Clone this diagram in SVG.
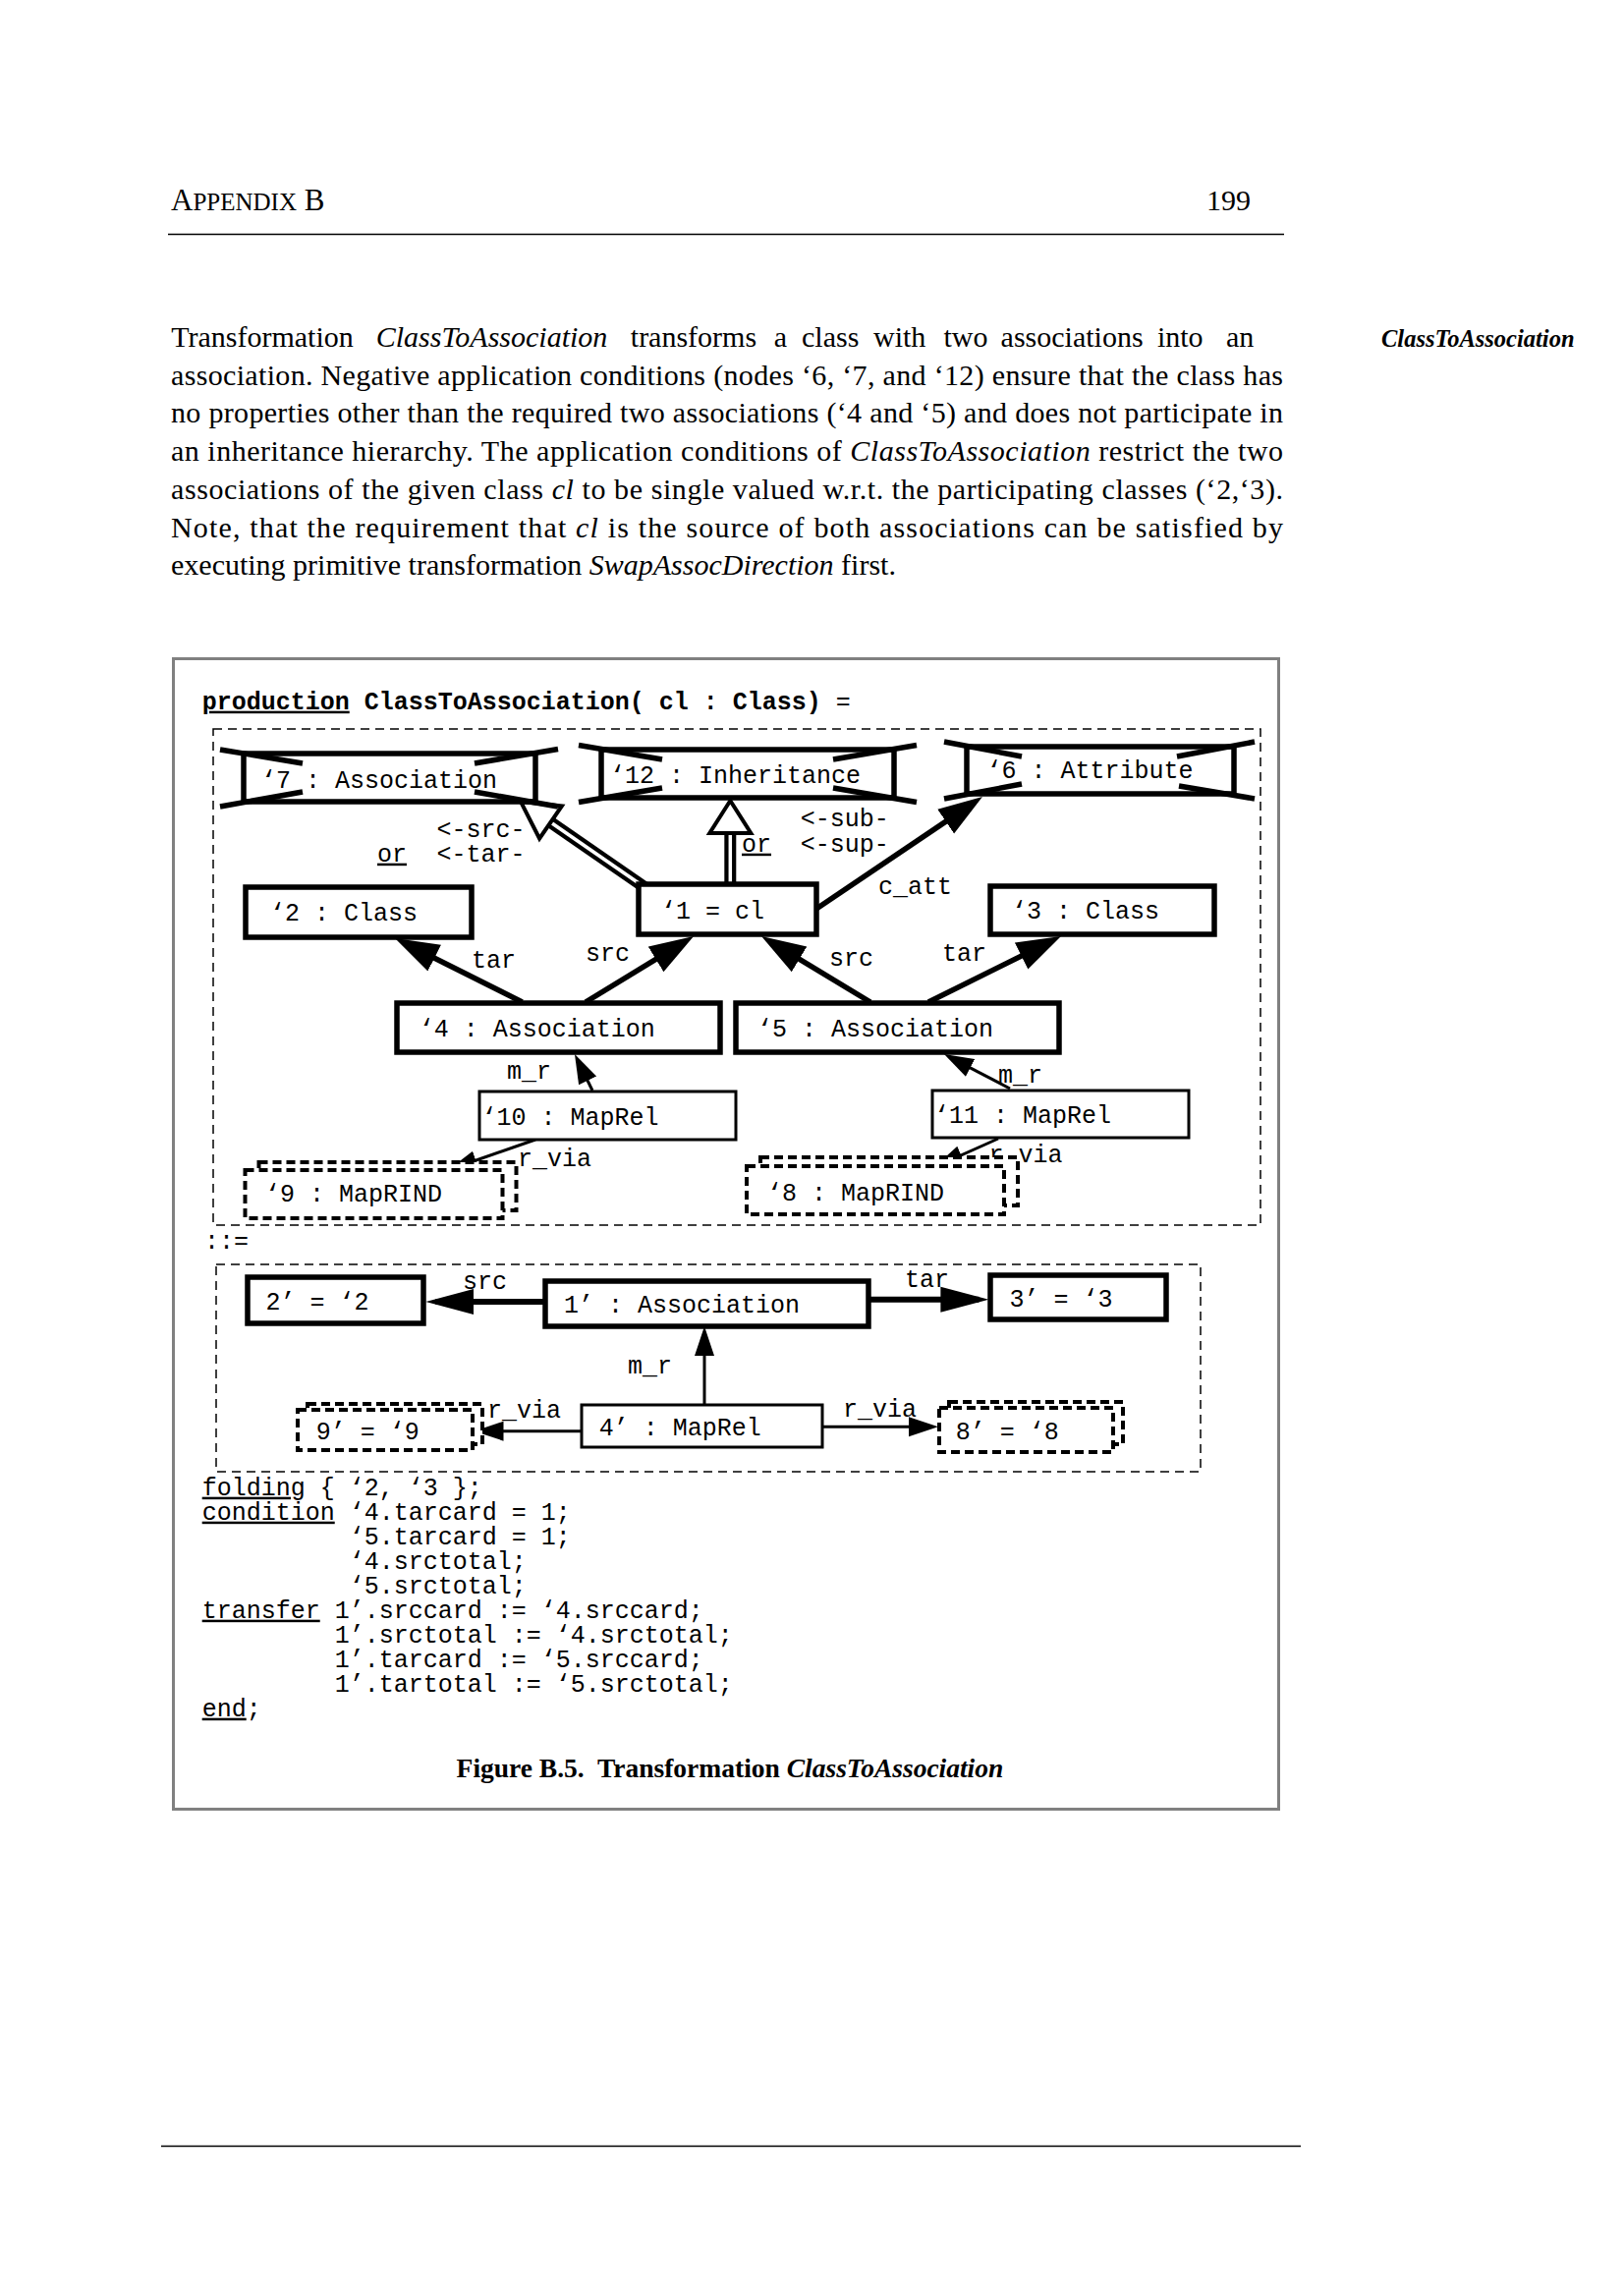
<svg xmlns="http://www.w3.org/2000/svg" width="1653" height="2336" viewBox="0 0 1653 2336">
<style>
.mono{font-family:"Liberation Mono","Courier New",monospace;font-size:25px;fill:#000}
.serif{font-family:"Liberation Serif","Times New Roman",serif;fill:#000}
.node{fill:#fff;stroke:#000;stroke-width:5.5}
.thin{fill:#fff;stroke:#000;stroke-width:3}
.dnode{fill:#fff;stroke:#000;stroke-width:4;stroke-dasharray:9 5}
.neg{stroke:#000;stroke-width:5.5;fill:none}
.area{fill:none;stroke:#000;stroke-width:1.5;stroke-dasharray:9 6}
.thick{stroke:#000;stroke-width:5.5;fill:none;marker-end:url(#ah)}
.thickR{stroke:#000;stroke-width:6;fill:none;marker-end:url(#ahR)}
.thinE{stroke:#000;stroke-width:3;fill:none;marker-end:url(#ahT)}
.shaft{stroke:#000;stroke-width:12;fill:none}
.shaftIn{stroke:#fff;stroke-width:3.5;fill:none}
.hollow{fill:#fff;stroke:#000;stroke-width:4}
.u{text-decoration:underline}
</style>
<defs>
<marker id="ah" markerUnits="userSpaceOnUse" viewBox="0 -16 50 32" markerWidth="50" markerHeight="32" refX="35" refY="0" orient="auto"><path d="M0,-15 L45,0 L0,15 z" fill="#000"/></marker>
<marker id="ahR" markerUnits="userSpaceOnUse" viewBox="0 -14 52 28" markerWidth="52" markerHeight="28" refX="39" refY="0" orient="auto"><path d="M0,-13 L49,0 L0,13 z" fill="#000"/></marker>
<marker id="ahT" markerUnits="userSpaceOnUse" viewBox="0 -11 32 22" markerWidth="32" markerHeight="22" refX="24" refY="0" orient="auto"><path d="M0,-10 L30,0 L0,10 z" fill="#000"/></marker>
</defs>
<rect width="1653" height="2336" fill="#fff"/>

<g id="page">
<text class="serif" x="174" y="214" font-size="31">A<tspan font-size="25">PPENDIX</tspan> B</text>
<text class="serif" x="1228" y="214" font-size="30">199</text>
<line x1="171" y1="238.5" x2="1307" y2="238.5" stroke="#000" stroke-width="1.5"/>
<text class="serif" y="353" font-size="30"><tspan x="174.2">Transformation</tspan><tspan x="382.7" font-style="italic">ClassToAssociation</tspan><tspan x="641.8">transforms</tspan><tspan x="787.7">a</tspan><tspan x="816">class</tspan><tspan x="889">with</tspan><tspan x="960.5">two</tspan><tspan x="1018.6">associations</tspan><tspan x="1177.9">into</tspan><tspan x="1247.9">an</tspan></text>
<text class="serif" x="174" y="391.7" font-size="30" textLength="1132" lengthAdjust="spacing">association. Negative application conditions (nodes ‘6, ‘7, and ‘12) ensure that the class has</text>
<text class="serif" x="174" y="430.4" font-size="30" textLength="1132" lengthAdjust="spacing">no properties other than the required two associations (‘4 and ‘5) and does not participate in</text>
<text class="serif" x="174" y="469.1" font-size="30" textLength="1132" lengthAdjust="spacing">an inheritance hierarchy. The application conditions of <tspan font-style="italic">ClassToAssociation</tspan> restrict the two</text>
<text class="serif" x="174" y="507.8" font-size="30" textLength="1132" lengthAdjust="spacing">associations of the given class <tspan font-style="italic">cl</tspan> to be single valued w.r.t. the participating classes (‘2,‘3).</text>
<text class="serif" x="174" y="546.5" font-size="30" textLength="1132" lengthAdjust="spacing">Note, that the requirement that <tspan font-style="italic">cl</tspan> is the source of both associations can be satisfied by</text>
<text class="serif" x="174" y="585.2" font-size="30">executing primitive transformation <tspan font-style="italic">SwapAssocDirection</tspan> first.</text>
<text class="serif" x="1406" y="353" font-size="24.5" font-weight="bold" font-style="italic">ClassToAssociation</text>
<line x1="164" y1="2184.5" x2="1324" y2="2184.5" stroke="#000" stroke-width="1.3"/>
</g>

<g id="figure-frame">
<rect x="176.5" y="670.5" width="1125" height="1171" fill="none" stroke="#808080" stroke-width="3"/>
<text class="mono" x="205.7" y="721.7"><tspan font-weight="bold" class="u">production</tspan><tspan font-weight="bold"> ClassToAssociation( cl : Class)</tspan> =</text>
<rect class="area" x="217" y="742" width="1066" height="505"/>
<text class="mono" x="208" y="1271">::=</text>
<rect class="area" x="220" y="1287" width="1002" height="211"/>
</g>

<g id="connectors">
<path class="thick" d="M531.6,1020 L410.9,959.5"/>
<path class="thick" d="M596,1020 L697.5,958.2"/>
<path class="thick" d="M886,1020 L783.6,958.2"/>
<path class="thick" d="M945,1020 L1071,957.5"/>
<path class="thick" d="M831,925 L991.7,816.6"/>
<path class="thinE" d="M603,1110 L587.6,1078.4"/>
<path class="thinE" d="M545,1160 L461.7,1189"/>
<path class="thinE" d="M1028,1108 L966.3,1075.8"/>
<path class="thinE" d="M1016,1159 L956.5,1185.6"/>
<path class="thickR" d="M555,1325 L443.4,1325"/>
<path class="thickR" d="M884,1322.7 L996.4,1322.7"/>
<path class="thinE" d="M717,1430 L717,1356"/>
<path class="thinE" d="M592,1456.7 L488.5,1456.7"/>
<path class="thinE" d="M837,1452.3 L949,1452.3"/>
<path class="shaft" d="M656,903 L560.5,837"/>
<path class="shaftIn" d="M656,903 L560.5,837"/>
<polygon class="hollow" points="530,816 571.9,820.5 549.1,853.5"/>
<path class="shaft" d="M743.3,847 L743.3,905"/>
<path class="shaftIn" d="M743.3,847 L743.3,905"/>
<polygon class="hollow" points="743.3,815 722.3,848 764.3,848"/>
<text class="mono" x="480" y="985">tar</text>
<text class="mono" x="596" y="978">src</text>
<text class="mono" x="844" y="983">src</text>
<text class="mono" x="959" y="978">tar</text>
<text class="mono" x="894" y="910">c_att</text>
<text class="mono" x="444.6" y="851.7">&lt;-src-</text>
<text class="mono" x="384" y="876.7"><tspan class="u">or</tspan></text>
<text class="mono" x="444.6" y="876.7">&lt;-tar-</text>
<text class="mono" x="814.7" y="841">&lt;-sub-</text>
<text class="mono" x="755" y="866.7"><tspan class="u">or</tspan></text>
<text class="mono" x="814.7" y="866.5">&lt;-sup-</text>
<text class="mono" x="516" y="1098">m_r</text>
<text class="mono" x="527" y="1187">r_via</text>
<text class="mono" x="1016" y="1102">m_r</text>
<text class="mono" x="1006.5" y="1183">r_via</text>
<text class="mono" x="471" y="1311.7">src</text>
<text class="mono" x="921" y="1310">tar</text>
<text class="mono" x="639" y="1398">m_r</text>
<text class="mono" x="496" y="1443">r_via</text>
<text class="mono" x="858" y="1441.7">r_via</text>
</g>

<g id="n7">
<rect class="node" x="248" y="767" width="297" height="49"/>
<path class="neg" d="M224,763 L308,777 M224,821 L308,806 M568,762.5 L483,777 M568,821 L483,806"/>
<text class="mono" x="266" y="801.7">‘7 : Association</text>
</g>
<g id="n12">
<rect class="node" x="612" y="763" width="298" height="49"/>
<path class="neg" d="M589,758.5 L674,773 M589,816.5 L674,802 M933,758.5 L848,773 M933,816.5 L848,802"/>
<text class="mono" x="621" y="796.7">‘12 : Inheritance</text>
</g>
<g id="n6">
<rect class="node" x="984" y="760" width="272" height="48"/>
<path class="neg" d="M961,755 L1040,770 M961,813 L1040,798 M1277,755 L1198,770 M1277,813 L1200,800"/>
<text class="mono" x="1004.5" y="791.7">‘6 : Attribute</text>
</g>
<g id="n1">
<rect class="node" x="650" y="900" width="181" height="51"/>
<text class="mono" x="673" y="935">‘1 = cl</text>
</g>
<g id="n2">
<rect class="node" x="250" y="903" width="230" height="51"/>
<text class="mono" x="275" y="936.7">‘2 : Class</text>
</g>
<g id="n3">
<rect class="node" x="1008" y="902" width="228" height="49"/>
<text class="mono" x="1030" y="935">‘3 : Class</text>
</g>
<g id="n4">
<rect class="node" x="404" y="1021" width="329" height="50"/>
<text class="mono" x="426.7" y="1055">‘4 : Association</text>
</g>
<g id="n5">
<rect class="node" x="749" y="1021" width="329" height="50"/>
<text class="mono" x="771" y="1055">‘5 : Association</text>
</g>
<g id="n10">
<rect class="thin" x="488" y="1111" width="261" height="49"/>
<text class="mono" x="490.5" y="1145">‘10 : MapRel</text>
</g>
<g id="n11">
<rect class="thin" x="949" y="1110" width="261" height="48"/>
<text class="mono" x="951" y="1143">‘11 : MapRel</text>
</g>
<g id="n9">
<rect class="dnode" x="263.5" y="1183" width="262" height="49"/>
<rect class="dnode" x="249.5" y="1191" width="262" height="49"/>
<text class="mono" x="270" y="1223">‘9 : MapRIND</text>
</g>
<g id="n8">
<rect class="dnode" x="774" y="1178" width="262" height="49"/>
<rect class="dnode" x="760" y="1187" width="262" height="49"/>
<text class="mono" x="781" y="1221.7">‘8 : MapRIND</text>
</g>
<g id="r2">
<rect class="node" x="252" y="1300" width="179" height="47"/>
<text class="mono" x="270.4" y="1332.7">2’ = ‘2</text>
</g>
<g id="r1">
<rect class="node" x="555" y="1304" width="329" height="46"/>
<text class="mono" x="574" y="1336">1’ : Association</text>
</g>
<g id="r3">
<rect class="node" x="1008" y="1298" width="179" height="45"/>
<text class="mono" x="1027.4" y="1330">3’ = ‘3</text>
</g>
<g id="r4">
<rect class="thin" x="592" y="1430" width="245" height="43"/>
<text class="mono" x="609.7" y="1460.7">4’ : MapRel</text>
</g>
<g id="r9">
<rect class="dnode" x="313" y="1429" width="178" height="41"/>
<rect class="dnode" x="303" y="1435" width="178" height="41"/>
<text class="mono" x="321.8" y="1465">9’ = ‘9</text>
</g>
<g id="r8">
<rect class="dnode" x="966" y="1427" width="177" height="43"/>
<rect class="dnode" x="956" y="1433" width="177" height="45"/>
<text class="mono" x="972.8" y="1465">8’ = ‘8</text>
</g>

<g id="code">
<text class="mono" x="205.7" y="1521.7"><tspan class="u">folding</tspan> { ‘2, ‘3 };</text>
<text class="mono" x="205.7" y="1546.7"><tspan class="u">condition</tspan> ‘4.tarcard = 1;</text>
<text class="mono" x="355.7" y="1571.7">‘5.tarcard = 1;</text>
<text class="mono" x="355.7" y="1596.7">‘4.srctotal;</text>
<text class="mono" x="355.7" y="1621.7">‘5.srctotal;</text>
<text class="mono" x="205.7" y="1646.7"><tspan class="u">transfer</tspan> 1’.srccard := ‘4.srccard;</text>
<text class="mono" x="340.7" y="1671.7">1’.srctotal := ‘4.srctotal;</text>
<text class="mono" x="340.7" y="1696.7">1’.tarcard := ‘5.srccard;</text>
<text class="mono" x="340.7" y="1721.7">1’.tartotal := ‘5.srctotal;</text>
<text class="mono" x="205.7" y="1746.7"><tspan class="u">end</tspan>;</text>
<text class="serif" x="464.6" y="1809" font-size="27.5" font-weight="bold" xml:space="preserve">Figure B.5.  Transformation <tspan font-style="italic">ClassToAssociation</tspan></text>
</g>
</svg>
